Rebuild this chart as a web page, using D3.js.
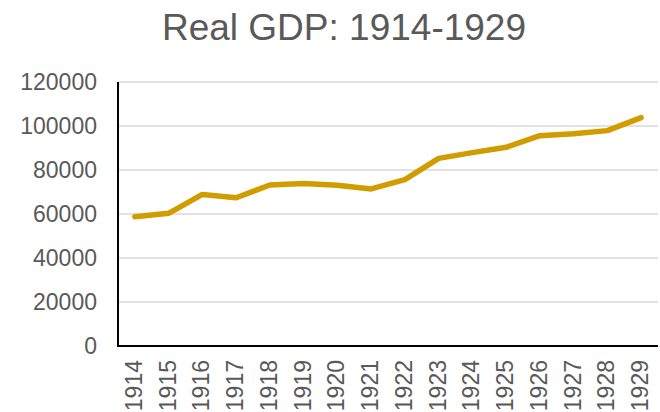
<!DOCTYPE html>
<html>
<head>
<meta charset="utf-8">
<script src="https://cdn.jsdelivr.net/npm/d3@7"></script>
<style>
  body { margin: 0; background: #fff; }
  svg { display: block; font-family: "Liberation Sans", Arial, sans-serif; }
</style>
</head>
<body>
<div id="chart"></div>
<script>
const w = 660;
const h = 412;

// data
const years = ["1914", "1915", "1916", "1917", "1918", "1919", "1920", "1921",
               "1922", "1923", "1924", "1925", "1926", "1927", "1928", "1929"];
const realGdp = [58800, 60300, 68900, 67400, 73200, 73900, 73100, 71400,
                 75600, 85300, 87900, 90300, 95600, 96500, 97900, 103800];
const yTicks = [0, 20000, 40000, 60000, 80000, 100000, 120000];

const margin = {top: 82, right: 2, bottom: 66, left: 118};
const textColor = "#595959";

const svg = d3.select("#chart")
  .append("svg")
  .attr("width", w)
  .attr("height", h);

const xScale = d3.scaleBand()
  .domain(years)
  .range([margin.left, w - margin.right]);

const yScale = d3.scaleLinear()
  .domain([0, 120000])
  .range([h - margin.bottom, margin.top]);

// gridlines
svg.append("g")
  .selectAll("line")
  .data(yTicks.slice(1))
  .enter()
  .append("line")
  .attr("x1", margin.left)
  .attr("x2", w - margin.right)
  .attr("y1", d => yScale(d))
  .attr("y2", d => yScale(d))
  .attr("stroke", "#d9d9d9")
  .attr("stroke-width", 1.5);

// y axis
const yAxis = d3.axisLeft(yScale)
  .tickValues(yTicks)
  .tickFormat(d3.format("d"))
  .tickSize(0)
  .tickPadding(21);

svg.append("g")
  .attr("transform", "translate(" + margin.left + ",0)")
  .call(yAxis)
  .call(g => g.select(".domain").remove())
  .selectAll("text")
  .attr("fill", textColor)
  .style("font-size", "23px")
  .style("font-family", "Liberation Sans, Arial, sans-serif");

svg.append("line")
  .attr("x1", margin.left)
  .attr("x2", margin.left)
  .attr("y1", yScale(120000))
  .attr("y2", yScale(0))
  .attr("stroke", "#000")
  .attr("stroke-width", 2);

// x axis
const xAxis = d3.axisBottom(xScale).tickSize(0);

svg.append("g")
  .attr("transform", "translate(0," + (h - margin.bottom) + ")")
  .call(xAxis)
  .call(g => g.select(".domain").remove())
  .selectAll("text")
  .attr("fill", textColor)
  .style("font-size", "23px")
  .style("font-family", "Liberation Sans, Arial, sans-serif")
  .attr("text-anchor", "end")
  .attr("transform", "rotate(-90)")
  .attr("x", -14)
  .attr("y", 0)
  .attr("dy", "0.3em");

svg.append("line")
  .attr("x1", margin.left - 1)
  .attr("x2", w - margin.right)
  .attr("y1", yScale(0))
  .attr("y2", yScale(0))
  .attr("stroke", "#000")
  .attr("stroke-width", 2);

// the series line
const line = d3.line()
  .x((d, i) => xScale(years[i]) + xScale.bandwidth() / 2)
  .y(d => yScale(d));

svg.append("path")
  .datum(realGdp)
  .attr("d", line)
  .attr("fill", "none")
  .attr("stroke", "#d09c00")
  .attr("stroke-width", 5.5)
  .attr("stroke-linecap", "round")
  .attr("stroke-linejoin", "round");

// title
svg.append("text")
  .attr("x", 344)
  .attr("y", 40)
  .attr("text-anchor", "middle")
  .attr("fill", textColor)
  .style("font-size", "37px")
  .text("Real GDP: 1914-1929");
</script>
</body>
</html>
